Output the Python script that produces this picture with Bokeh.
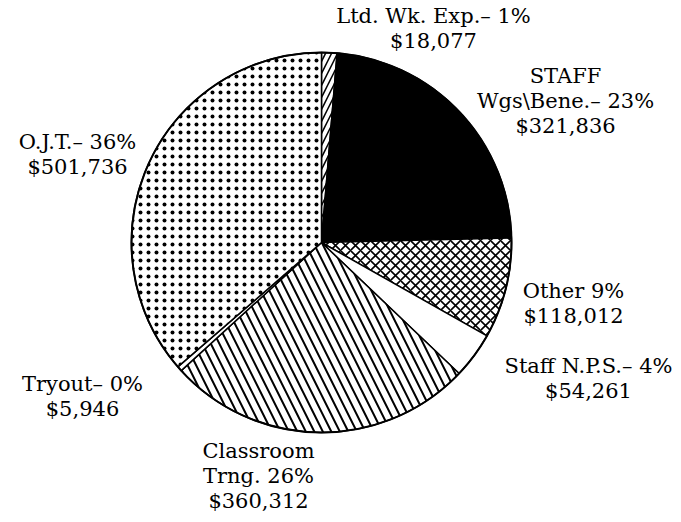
import math
from bokeh.plotting import figure
from bokeh.models import Range1d, ColumnDataSource
from bokeh.core.properties import value
from bokeh.embed import file_html
from bokeh.resources import INLINE

# ---- data (clockwise from 12 o'clock) ----
categories = ["Ltd. Wk. Exp.", "STAFF Wgs\\Bene.", "Other", "Staff N.P.S.",
              "Classroom Trng.", "Tryout", "O.J.T."]
amounts = [18077, 321836, 118012, 54261, 360312, 5946, 501736]
percents = [1, 23, 9, 4, 26, 0, 36]

label_lines = [
    ["Ltd. Wk. Exp.\u2013 1%", "$18,077"],
    ["STAFF", "Wgs\\Bene.\u2013 23%", "$321,836"],
    ["Other 9%", "$118,012"],
    ["Staff N.P.S.\u2013 4%", "$54,261"],
    ["Classroom", "Trng. 26%", "$360,312"],
    ["Tryout\u2013 0%", "$5,946"],
    ["O.J.T.\u2013 36%", "$501,736"],
]

# ---- styles / layout (image pixel coordinates) ----
fills = ["white", "black", "white", "white", "white", "white", "white"]
hatches = ["right_diagonal_line", " ", "diagonal_cross", " ", "left_diagonal_line", " ", "dot"]
hatch_scales = [12, 8, 10, 8, 17, 8, 8]
hatch_weights = [1.5, 1, 1.6, 1, 2, 1, 1.0]
label_centers = [(433, 15), (565, 75), (573, 290), (588, 365), (258, 450), (82, 383), (77, 141)]
line_gap = 25

W, H = 681, 522
CX, CY, R = 321, 242, 190


def Y(py):
    return H - py


total = sum(amounts)
starts, ends = [], []
cum = 0.0
for a in amounts:
    f0 = cum / total
    cum += a
    f1 = cum / total
    # clockwise from top
    starts.append(math.pi / 2 - f1 * 2 * math.pi)
    ends.append(math.pi / 2 - f0 * 2 * math.pi)

src = ColumnDataSource(dict(
    x=[CX] * len(amounts), y=[Y(CY)] * len(amounts),
    start=starts, end=ends, fill=fills, hatch=hatches,
    hs=hatch_scales, hw=hatch_weights, cat=categories,
))

p = figure(width=W, height=H, output_backend="svg", toolbar_location=None,
           x_range=Range1d(0, W), y_range=Range1d(0, H),
           min_border=0, outline_line_color=None)
p.axis.visible = False
p.grid.visible = False
p.background_fill_color = "white"
p.border_fill_color = "white"

p.wedge(x="x", y="y", radius=R, start_angle="start", end_angle="end",
        fill_color="fill", hatch_pattern="hatch", hatch_color="black",
        hatch_scale="hs", hatch_weight="hw",
        line_color="black", line_width=1.5, source=src)

# outer rim
p.circle(x=[CX], y=[Y(CY)], radius=R, fill_color=None, line_color="black", line_width=2)

tx, ty, tt = [], [], []
for (cx, cy), lines in zip(label_centers, label_lines):
    for i, t in enumerate(lines):
        tx.append(cx)
        ty.append(Y(cy + i * line_gap))
        tt.append(t)

p.text(x=tx, y=ty, text=tt, text_align="center", text_baseline="middle",
       text_font=value("DejaVu Serif"), text_font_size="21px", text_color="black")

open("out.html", "w").write(file_html(p, INLINE))
